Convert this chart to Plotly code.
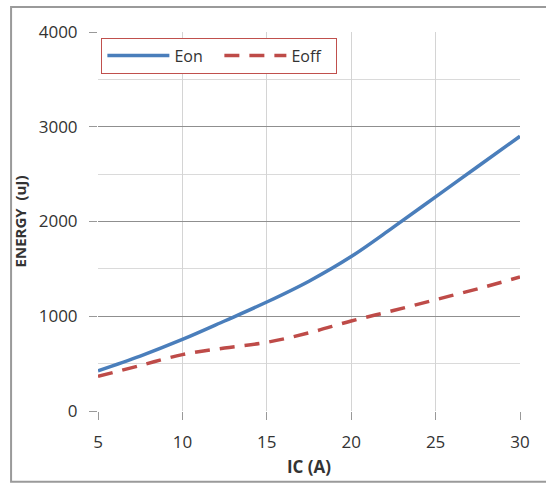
import plotly.graph_objects as go

ic = [5, 7.5, 10, 12.5, 15, 17.5, 20, 22.5, 25, 27.5, 30]
eon = [425, 580, 755, 950, 1150, 1370, 1630, 1940, 2260, 2580, 2900]
eoff = [365, 480, 595, 665, 725, 825, 950, 1060, 1175, 1290, 1415]

x_ticks = [5, 10, 15, 20, 25, 30]
y_ticks = [0, 1000, 2000, 3000, 4000]

FONT = "Open Sans"

fig = go.Figure()
fig.add_trace(go.Scatter(x=ic, y=eon, name="Eon", mode="lines",
                         line=dict(color="#4a7ebb", width=3.5, shape="spline")))
fig.add_trace(go.Scatter(x=ic, y=eoff, name="Eoff", mode="lines",
                         line=dict(color="#be4b48", width=3.5, dash="15px,10px", shape="spline")))

fig.update_layout(
    width=546, height=484,
    margin=dict(l=98, r=26, t=32, b=73),
    paper_bgcolor="white", plot_bgcolor="white",
    font=dict(family=FONT, size=17, color="#333333"),
    showlegend=True,
    legend=dict(orientation="h", x=0.008, y=0.985, xanchor="left", yanchor="top",
                bgcolor="white", bordercolor="#c0504d", borderwidth=1,
                font=dict(family=FONT, size=16, color="#333333"),
                itemwidth=62, entrywidthmode="pixels", entrywidth=40,
                tracegroupgap=0),
    xaxis=dict(range=[5, 30], tickvals=x_ticks, ticktext=[str(v) for v in x_ticks],
               showgrid=True, gridcolor="#d4d4d4", gridwidth=1,
               zeroline=False, showline=False,
               ticks="outside", ticklen=8, tickcolor="#999999",
               ticklabelstandoff=8,
               title=dict(text="<b>IC (A)</b>", font=dict(family=FONT, size=17, color="#333333"),
                          standoff=8)),
    yaxis=dict(range=[0, 4000], tickvals=y_ticks, ticktext=[str(v) for v in y_ticks],
               showgrid=True, gridcolor="#8f8f8f", gridwidth=1,
               minor=dict(dtick=500, showgrid=True, gridcolor="#dadada", gridwidth=1),
               zeroline=False, showline=False,
               ticks="outside", ticklen=8, tickcolor="#999999",
               ticklabelstandoff=8,
               title=dict(text="<b>ENERGY  (uJ)</b>", font=dict(family=FONT, size=15, color="#333333"),
                          standoff=8)),
)

# outer chart frame
fig.add_shape(type="rect", xref="paper", yref="paper",
              x0=-0.206, x1=1.07, y0=-0.187, y1=1.066,
              line=dict(color="#9a9a9a", width=2), fillcolor="rgba(0,0,0,0)", layer="below")

fig.write_html("out.html")
